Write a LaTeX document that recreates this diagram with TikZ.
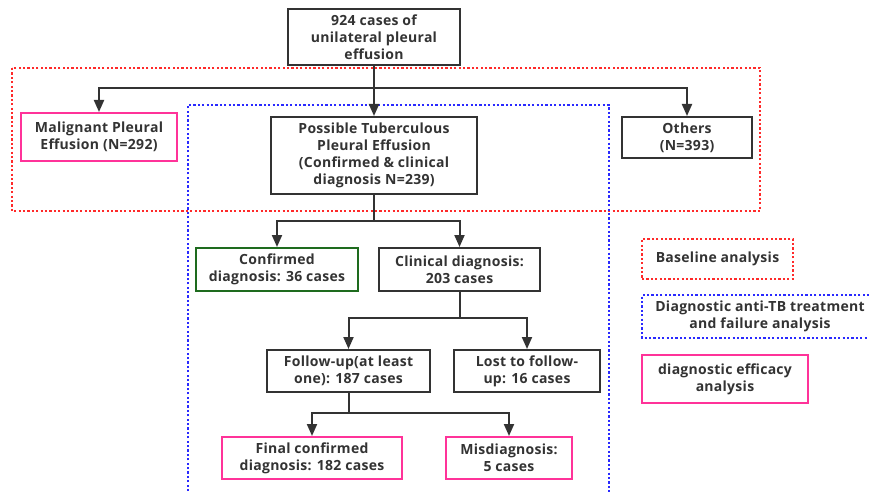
\documentclass[tikz,border=0pt]{standalone}
\usepackage{fontspec}
\setmainfont{Open Sans}[LetterSpace=2]
\usetikzlibrary{arrows.meta}
\definecolor{ink}{HTML}{333333}
\definecolor{redline}{HTML}{FF2A2A}
\definecolor{blueline}{HTML}{2A2AFF}
\definecolor{pinkline}{HTML}{FF3399}
\definecolor{greenline}{HTML}{1E6B1E}
\tikzset{
  box/.style={draw=ink, line width=2pt, align=center, text=ink, inner sep=2pt,
    font=\fontsize{14}{17}\selectfont\bfseries},
  pinkbox/.style={box, draw=pinkline},
  greenbox/.style={box, draw=greenline},
  conn/.style={draw=ink, line width=2pt},
  arr/.style={conn, -{Triangle[length=12pt,width=10pt]}},
  reddot/.style={draw=redline, line width=2pt, dash pattern=on 2.2pt off 2.2pt},
  bluedot/.style={draw=blueline, line width=2pt, dash pattern=on 2.2pt off 2.2pt},
  lbl/.style={align=center, text=ink, font=\fontsize{14}{17}\selectfont\bfseries}
}
\begin{document}
\begin{tikzpicture}[x=1pt,y=-1pt]
\useasboundingbox (0,0) rectangle (869,492);
% group frames
\draw[reddot] (12,68) rectangle (760,211);
\draw[bluedot] (188,500) -- (188,105) -- (609,105) -- (609,500);
% nodes
\node[box, minimum width=172pt, minimum height=56pt] (top) at (374,37) {924 cases of\\unilateral pleural\\effusion};
\node[pinkbox, minimum width=156pt, minimum height=48pt] (mal) at (99,137) {Malignant Pleural\\Effusion (N=292)};
\node[box, minimum width=206pt, minimum height=77pt] (ptb) at (374,155.5) {Possible Tuberculous\\Pleural Effusion\\(Confirmed \& clinical\\diagnosis N=239)};
\node[box, minimum width=130pt, minimum height=41pt] (oth) at (687,137.5) {Others\\(N=393)};
\node[greenbox, minimum width=162pt, minimum height=43pt] (conf) at (277,269.5) {Confirmed\\diagnosis: 36 cases};
\node[box, minimum width=161pt, minimum height=43pt] (clin) at (459.5,269.5) {Clinical diagnosis:\\203 cases};
\node[box, minimum width=163pt, minimum height=42pt] (fol) at (348.5,371) {Follow-up(at least\\one): 187 cases};
\node[box, minimum width=146pt, minimum height=42pt] (lost) at (527,371) {Lost to follow-\\up: 16 cases};
\node[pinkbox, minimum width=180pt, minimum height=42pt] (fin) at (312,458) {Final confirmed\\diagnosis: 182 cases};
\node[pinkbox, minimum width=126pt, minimum height=42pt] (mis) at (509,458) {Misdiagnosis:\\5 cases};
% legend
\node[reddot, lbl, minimum width=151pt, minimum height=40pt] (lg1) at (717.5,259) {Baseline analysis};
\draw[bluedot] (900,295) -- (642,295) -- (642,338) -- (900,338);
\node[lbl] (lg2) at (760,316.5) {Diagnostic anti-TB treatment\\and failure analysis};
\node[pinkbox, minimum width=166pt, minimum height=48pt] (lg3) at (725,379) {diagnostic efficacy\\analysis};
% connectors
\coordinate (j1) at (374,88);
\draw[conn] (top) -- (j1);
\draw[arr] (j1) -| (mal);
\draw[arr] (j1) -| (oth);
\draw[arr] (j1) -- (ptb);
\coordinate (j2) at (374,221);
\draw[conn] (ptb) -- (j2);
\draw[arr] (j2) -| (conf);
\draw[arr] (j2) -| (clin);
\coordinate (j3) at (459.5,318);
\draw[conn] (clin) -- (j3);
\draw[arr] (j3) -| (fol);
\draw[arr] (j3) -| (lost);
\coordinate (j4) at (348.5,413);
\draw[conn] (fol) -- (j4);
\draw[arr] (j4) -| (fin);
\draw[arr] (j4) -| (mis);
\end{tikzpicture}
\end{document}
